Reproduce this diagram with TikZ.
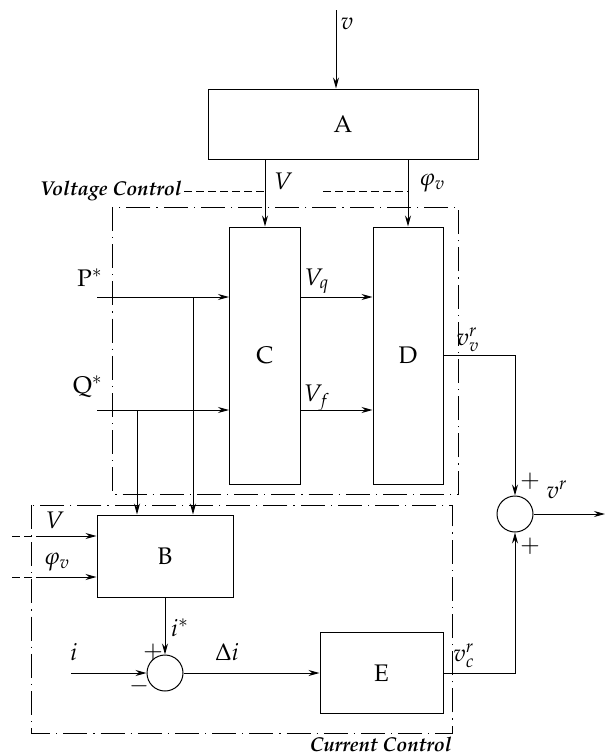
\documentclass[tikz,border=0pt]{standalone}
\usepackage[T1]{fontenc}
\usepackage{amsmath,amssymb}
\usepackage{mathpazo}
\usepackage{tikz}
\usetikzlibrary{arrows.meta, positioning, calc}

\tikzset{
    blk/.style={draw, line width=0.5pt, inner sep=0pt},
    sumnode/.style={draw, circle, line width=0.5pt, minimum size=18pt, inner sep=0pt},
    sig/.style={line width=0.5pt, -{Stealth[length=5.5pt, width=3pt, inset=1.8pt]}},
    ctrlframe/.style={line width=0.5pt, dash pattern=on 12pt off 3pt on 0.6pt off 3pt},
    hint/.style={line width=0.5pt, dash pattern=on 4pt off 2pt},
    ctrltxt/.style={font=\normalsize\bfseries\itshape, inner sep=0pt}
}

\begin{document}
\begin{tikzpicture}[x=0.5pt, y=-0.5pt, font=\large]
    \useasboundingbox (0,0) rectangle (605,755);

    % Control frames
    \draw[ctrlframe] (112,207) rectangle (458,494);
    \draw[ctrlframe] (31,505) rectangle (452,733);
    \node[ctrltxt, anchor=east] (vclab) at (182,191) {Voltage Control};
    \node[ctrltxt, anchor=north east] (cclab) at (452,737) {Current Control};

    % Blocks
    \node[blk, minimum width=135pt, minimum height=35pt] (A) at (343,124) {A};
    \node[blk, minimum width=35.5pt, minimum height=128.5pt] (C) at (265,355.5) {C};
    \node[blk, minimum width=35pt, minimum height=128.5pt] (D) at (408,355.5) {D};
    \node[blk, minimum width=68pt, minimum height=41pt] (B) at (165,556) {B};
    \node[blk, minimum width=61.5pt, minimum height=40.5pt] (E) at (381.5,673) {E};

    % Summing junctions
    \node[sumnode] (sumv) at (515,514) {};
    \node[sumnode] (sumi) at (165,673) {};

    % Input v and outputs of A
    \coordinate (vin) at (336,10);
    \node at (347,24) {$v$};
    \draw[sig] (vin) -- (vin |- A.north);
    \draw[sig] (C.north |- A.south) -- (C.north);
    \draw[sig] (D.north |- A.south) -- (D.north);
    \node[right] at (267,181) {$V$};
    \node[right] at (412,183) {$\varphi_v$};

    % Dashed hints
    \draw[hint] ([xshift=1pt]vclab.east) -- (C.north |- vclab.east);
    \coordinate (phidash) at (323,191);
    \draw[hint] (phidash) -- (D.north |- phidash);

    % P* and Q*
    \coordinate (pin) at (97,297);
    \coordinate (qin) at (97,410);
    \node at (90,278) {P$^*$};
    \node at (88,387) {Q$^*$};
    \draw[sig] (pin) -- (pin -| C.west);
    \draw[sig] (qin) -- (qin -| C.west);
    \coordinate (pbr) at (193,297);
    \coordinate (qbr) at (137,410);
    \draw[sig] (pbr) -- (pbr |- B.north);
    \draw[sig] (qbr) -- (qbr |- B.north);

    % C to D
    \coordinate (vq) at (C.east |- pin);
    \coordinate (vf) at (C.east |- qin);
    \draw[sig] (vq) -- (vq -| D.west);
    \draw[sig] (vf) -- (vf -| D.west);
    \node at (317,281) {$V_q$};
    \node at (317,398) {$V_f$};

    % D to output sum
    \draw[sig] (D.east) -| (sumv.north);
    \node at (468,340) {$v_v^r$};
    \node at (530,481) {$+$};
    \node at (530,546) {$+$};
    \coordinate (vr) at (605,514);
    \draw[sig] (sumv.east) -- (vr);
    \node at (557,490) {$v^r$};

    % Inputs of B
    \coordinate (vb) at (12,536);
    \coordinate (phib) at (12,577);
    \draw[hint] (vb) -- ++(25,0) coordinate (vbs);
    \draw[hint] (phib) -- ++(25,0) coordinate (phibs);
    \draw[sig] (vbs) -- (vbs -| B.west);
    \draw[sig] (phibs) -- (phibs -| B.west);
    \node at (55,520) {$V$};
    \node at (57,562) {$\varphi_v$};

    % Current loop
    \draw[sig] (B.south) -- (sumi.north);
    \node at (180,628) {$i^*$};
    \node at (153,652) {$+$};
    \node at (139,686) {$-$};
    \coordinate (iin) at (71,673);
    \draw[sig] (iin) -- (sumi.west);
    \node at (74,652) {$i$};
    \draw[sig] (sumi.east) -- (E.west);
    \node at (227,652) {$\Delta i$};
    \draw[sig] (E.east) -| (sumv.south);
    \node at (464,656) {$v_c^r$};

\end{tikzpicture}
\end{document}
